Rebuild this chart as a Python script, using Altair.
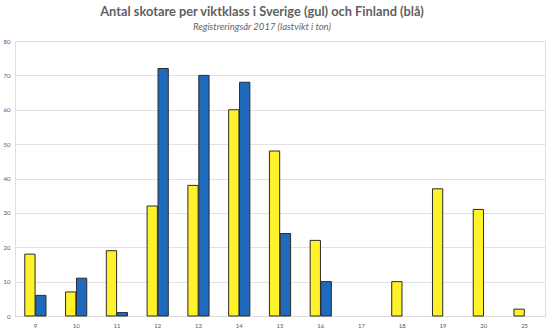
import altair as alt
import pandas as pd

categories = ["9", "10", "11", "12", "13", "14", "15", "16", "17", "18", "19", "20", "25"]
sverige = [18, 7, 19, 32, 38, 60, 48, 22, 0, 10, 37, 31, 2]
finland = [6, 11, 1, 72, 70, 68, 24, 10, 0, 0, 0, 0, 0]
series = ["Sverige", "Finland"]
colors = ["#FFF22B", "#1E6BBE"]

rows = []
for c, s, f in zip(categories, sverige, finland):
    rows.append({"klass": c, "land": "Sverige", "antal": s})
    rows.append({"klass": c, "land": "Finland", "antal": f})
df = pd.DataFrame(rows)
df = df[df["antal"] > 0]

FONT = "Lato"

chart = alt.Chart(df).mark_bar(stroke="#2b2b2b", strokeWidth=1).encode(
    x=alt.X("klass:N", sort=categories, scale=alt.Scale(domain=categories, paddingInner=0.48, paddingOuter=0.24),
            axis=alt.Axis(title=None, labelAngle=0, labelFontSize=6, labelColor="#595959", labelFont=FONT,
                          ticks=False, domain=False, labelPadding=6, grid=False)),
    xOffset=alt.XOffset("land:N", sort=series, scale=alt.Scale(domain=series, paddingInner=0.06)),
    y=alt.Y("antal:Q", scale=alt.Scale(domain=[0, 80]),
            axis=alt.Axis(title=None, values=list(range(0, 81, 10)), labelFontSize=6, labelColor="#595959",
                          labelFont=FONT, ticks=False, domain=False, labelPadding=5,
                          gridColor="#D9D9D9", gridWidth=0.8)),
    color=alt.Color("land:N", scale=alt.Scale(domain=series, range=colors), legend=None),
).properties(
    width=530,
    height=275,
    title=alt.TitleParams(
        text="Antal skotare per viktklass i Sverige (gul) och Finland (blå)",
        subtitle="Registreringsår 2017 (lastvikt i ton)",
        font=FONT, fontSize=12.8, fontWeight="bold", color="#5f5f5f",
        subtitleFont=FONT, subtitleFontSize=9.5, subtitleFontStyle="italic", subtitleColor="#666666",
        anchor="middle", dx=-18, offset=7, subtitlePadding=2.5,
    ),
    autosize=alt.AutoSizeParams(type="none"),
    padding={"left": 15, "top": 41, "right": 5, "bottom": 15},
).configure_view(stroke=None).configure(background="white")

chart.save("out.html", embed_options={"renderer": "svg", "actions": False})
